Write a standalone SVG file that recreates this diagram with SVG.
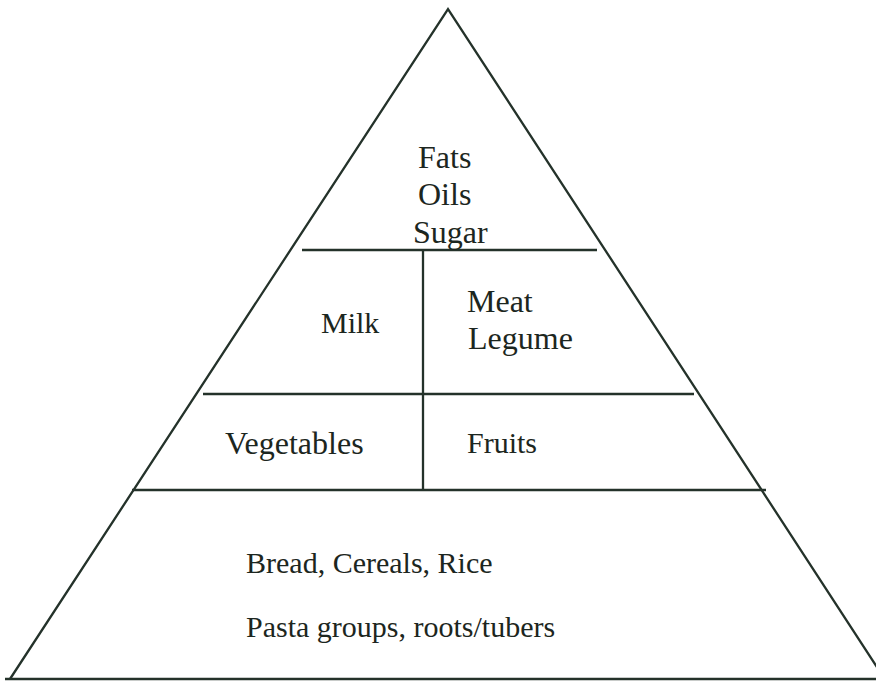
<svg xmlns="http://www.w3.org/2000/svg" width="876" height="681" viewBox="0 0 876 681">
  <style>
    .ln { stroke: #24322a; stroke-width: 2.3; fill: none; stroke-linecap: butt; }
    .tx { font-family: "Liberation Serif", "Times New Roman", serif; font-size: 30px; fill: #1c2620; }
    .lg { font-size: 32px; }
  </style>
  <rect width="876" height="681" fill="#ffffff"/>
  <g id="connectors">
    <polyline class="ln" points="10,679 448,9 890,687"/>
    <line class="ln" x1="5" y1="679" x2="876" y2="679"/>
    <line class="ln" x1="302" y1="250" x2="597" y2="250"/>
    <line class="ln" x1="203" y1="394" x2="694" y2="394"/>
    <line class="ln" x1="132" y1="490" x2="766" y2="490"/>
    <line class="ln" x1="423" y1="250" x2="423" y2="490"/>
  </g>
  <g id="fats-oils-sugar">
    <text class="tx lg" x="418" y="168">Fats</text>
    <text class="tx lg" x="418" y="205">Oils</text>
    <text class="tx lg" x="413" y="243">Sugar</text>
  </g>
  <g id="milk">
    <text class="tx" x="321" y="333">Milk</text>
  </g>
  <g id="meat-legume">
    <text class="tx lg" x="467" y="312">Meat</text>
    <text class="tx lg" x="468" y="349">Legume</text>
  </g>
  <g id="vegetables">
    <text class="tx lg" x="225" y="454">Vegetables</text>
  </g>
  <g id="fruits">
    <text class="tx" x="467" y="453">Fruits</text>
  </g>
  <g id="bread-cereals">
    <text class="tx" x="246" y="573">Bread, Cereals, Rice</text>
    <text class="tx" x="246" y="637">Pasta groups, roots/tubers</text>
  </g>
</svg>
